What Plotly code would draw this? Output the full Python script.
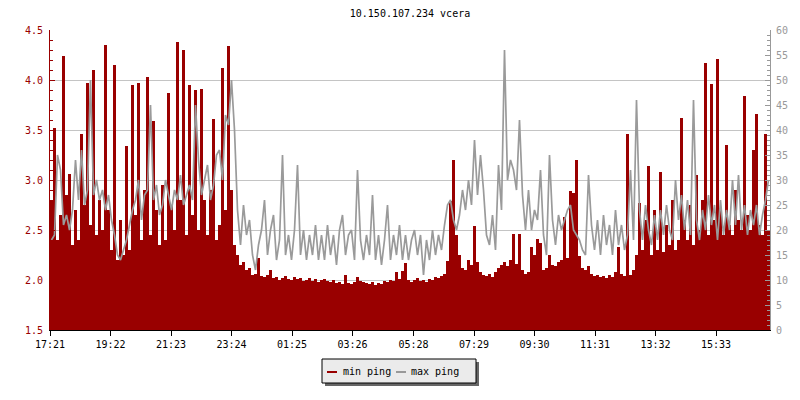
import pandas as pd
import plotly.graph_objects as go

# min ping (left axis) and max ping (right axis), one value per 6 minutes from 17:21
min_ping = [
    2.80, 3.52, 2.40, 2.65, 4.24, 2.85, 3.06, 2.35, 2.70, 2.40,
    3.46, 2.75, 3.97, 2.55, 4.10, 2.45, 2.80, 2.50, 4.35, 2.70,
    2.30, 4.15, 2.20, 2.60, 2.25, 3.34, 2.30, 3.95, 2.65, 3.97,
    2.40, 2.90, 4.03, 2.45, 3.59, 2.70, 2.35, 2.95, 2.40, 3.87,
    2.75, 2.50, 4.38, 2.80, 4.30, 2.45, 3.95, 2.65, 3.90, 2.50,
    3.91, 2.80, 2.45, 2.90, 3.61, 2.40, 2.55, 4.12, 2.70, 4.34,
    2.90, 2.35, 2.25, 2.15, 2.18, 2.10, 2.12, 2.05, 2.06, 2.22,
    2.04, 2.03, 2.05, 2.10, 2.02, 2.03, 2.00, 2.02, 2.04, 2.01,
    2.00, 2.03, 2.01, 2.02, 1.99, 2.00, 2.02, 1.99, 2.01, 1.98,
    2.00, 2.01, 1.99, 1.98, 2.00, 1.97, 1.98, 1.96, 2.05, 1.97,
    1.96, 1.98, 2.03, 1.99, 1.98, 1.97, 1.96, 1.98, 1.95, 1.97,
    1.96, 1.99, 1.98, 2.00, 1.99, 2.08, 2.01, 2.09, 2.17, 2.00,
    1.98, 2.00, 2.02, 1.99, 2.00, 1.98, 2.01, 2.00, 2.03, 2.02,
    2.04, 2.06, 2.19, 2.79, 3.20, 2.45, 2.25, 2.12, 2.10, 2.20,
    2.15, 2.54, 2.18, 2.08, 2.05, 2.04, 2.06, 2.03, 2.08, 2.12,
    2.15, 2.18, 2.14, 2.20, 2.46, 2.16, 2.46, 2.10, 2.06, 2.08,
    2.33, 2.25, 2.41, 2.37, 2.10, 2.12, 2.25, 2.15, 2.14, 2.18,
    2.20, 2.63, 2.22, 2.89, 2.87, 3.20, 2.24, 2.12, 2.10, 2.14,
    2.06, 2.04, 2.05, 2.03, 2.04, 2.02, 2.05, 2.03, 2.08, 2.33,
    2.06, 2.04, 3.46, 2.05, 2.10, 2.25, 2.77, 2.30, 2.60, 3.14,
    2.25, 2.70, 2.30, 3.08, 2.28, 2.55, 2.35, 2.80, 2.30, 2.40,
    3.62, 2.60, 2.40, 2.75, 2.35, 3.05, 2.50, 2.80, 4.17, 2.45,
    3.96, 2.60, 4.21, 2.70, 2.45, 3.35, 2.55, 2.45, 2.90, 2.60,
    2.50, 3.84, 2.65, 2.50, 3.30, 3.66, 2.55, 2.45, 3.46, 2.50,
]

max_ping = [
    18, 19, 35, 32, 21, 23, 20, 24, 34, 26,
    36, 25, 28, 50, 27, 30, 26, 28, 24, 27,
    22, 19, 15, 14, 16, 18, 21, 24, 26, 30,
    22, 27, 28, 45, 26, 29, 23, 25, 30, 27,
    24, 28, 26, 31, 25, 27, 29, 26, 45, 34,
    27, 30, 33, 26, 29, 35, 36, 30, 43, 41,
    50, 40, 24, 17, 25, 19, 22, 15, 12, 17,
    20, 26, 15, 20, 23, 14, 18, 35, 15, 19,
    14, 20, 33, 15, 20, 14, 19, 15, 21, 14,
    19, 14, 21, 15, 19, 13, 20, 23, 15, 19,
    20, 14, 32, 18, 14, 19, 15, 27, 14, 19,
    13, 18, 25, 14, 19, 15, 21, 14, 19, 14,
    18, 20, 15, 19, 11, 18, 14, 20, 15, 19,
    16, 21, 25, 26, 22, 20, 23, 28, 24, 30,
    25, 38, 27, 35, 28, 19, 17, 23, 16, 33,
    24, 56, 30, 34, 32, 28, 42, 27, 20, 28,
    20, 24, 22, 32, 19, 15, 35, 22, 17, 23,
    20, 22, 24, 25, 20, 19, 18, 16, 15, 31,
    21, 16, 22, 15, 23, 17, 21, 15, 24, 17,
    21, 16, 19, 32, 18, 46, 24, 18, 25, 20,
    17, 23, 18, 24, 19, 25, 20, 18, 30, 22,
    27, 20, 26, 19, 46, 22, 18, 24, 20, 27,
    21, 25, 18, 26, 19, 24, 20, 30, 21, 31,
    20, 25, 19, 24, 21, 25, 19, 23, 26, 30,
]

tick_labels = ["17:21", "19:22", "21:23", "23:24", "01:25", "03:26",
               "05:28", "07:29", "09:30", "11:31", "13:32", "15:33"]

START = pd.Timestamp("2024-05-13 17:21")
STEP_MIN = 6
SPAN_MIN = 1440

RED = "#990000"
GREY = "#999999"
GRID = "#c4c4c4"
FONT = "DejaVu Sans Mono"

# page offset of the figure (default body margin), and plot area in page pixels
PAGE = 8
L, R, T, B = 50, 770, 30, 330


def px_x(px):
    return (px - L) / (R - L)


def px_y(py):
    return (B - py) / (B - T)


def tick_time(label):
    t = pd.Timestamp(f"{START.date()} {label}")
    return t if t >= START else t + pd.Timedelta(days=1)


times = pd.date_range(START, periods=len(min_ping), freq=f"{STEP_MIN}min")
mid_times = times + pd.Timedelta(minutes=STEP_MIN / 2)
tick_vals = [tick_time(s) for s in tick_labels]

fig = go.Figure()

fig.add_trace(go.Bar(
    x=times,
    y=min_ping,
    width=STEP_MIN * 60 * 1000,
    offset=0,
    marker=dict(color=RED, line=dict(width=0)),
    name="min ping",
    showlegend=False,
))

fig.add_trace(go.Scatter(
    x=mid_times,
    y=max_ping,
    yaxis="y2",
    mode="lines",
    line=dict(color="#9a9a9a", width=1.7),
    name="max ping",
    showlegend=False,
))

# legend box drawn by hand (shadow + box + swatches)
fig.add_shape(type="rect", xref="paper", yref="paper",
              x0=px_x(325), x1=px_x(479), y0=px_y(386), y1=px_y(362),
              fillcolor="#666666", line_width=0)
fig.add_shape(type="rect", xref="paper", yref="paper",
              x0=px_x(322), x1=px_x(476), y0=px_y(383), y1=px_y(359),
              fillcolor="#ebebeb", line=dict(color="black", width=1))
for x0, color in [(327, RED), (396, GREY)]:
    fig.add_shape(type="line", xref="paper", yref="paper",
                  x0=px_x(x0), x1=px_x(x0 + 10), y0=px_y(372), y1=px_y(372),
                  line=dict(color=color, width=2))
for x0, text in [(341, "min ping"), (409, "max ping")]:
    fig.add_annotation(x=px_x(x0), y=px_y(371), xref="paper", yref="paper",
                       text=text, showarrow=False, xanchor="left",
                       yanchor="middle", font=dict(family=FONT, size=10, color="black"))

fig.update_layout(
    width=800 - PAGE,
    height=400 - PAGE,
    autosize=False,
    margin=dict(l=L - PAGE, r=800 - R, t=T - PAGE, b=400 - B),
    paper_bgcolor="white",
    plot_bgcolor="white",
    title=dict(text="10.150.107.234 vcera", x=0.5, xref="paper",
               y=1 - (13.5 - PAGE) / (400 - PAGE), yanchor="middle",
               font=dict(family=FONT, size=10, color="black")),
    bargap=0,
    showlegend=False,
    xaxis=dict(
        type="date",
        range=[START, START + pd.Timedelta(minutes=SPAN_MIN)],
        tickvals=tick_vals,
        ticktext=tick_labels,
        ticks="outside",
        ticklen=5,
        tickcolor="black",
        showline=True,
        linecolor="black",
        linewidth=1,
        showgrid=False,
        zeroline=False,
        automargin=False,
        tickfont=dict(family=FONT, size=10, color="black"),
    ),
    yaxis=dict(
        range=[1.5, 4.5],
        tick0=1.5,
        dtick=0.5,
        tickformat=".1f",
        ticks="inside",
        ticklen=5,
        tickcolor=RED,
        showline=True,
        linecolor=RED,
        gridcolor=GRID,
        zeroline=False,
        automargin=False,
        tickfont=dict(family=FONT, size=10, color=RED),
        ticklabelstandoff=4,
        minor=dict(dtick=0.1, ticks="inside", ticklen=3, tickcolor=RED, showgrid=False),
    ),
    yaxis2=dict(
        overlaying="y",
        side="right",
        range=[0, 60],
        tick0=0,
        dtick=5,
        ticks="inside",
        ticklen=5,
        tickcolor=GREY,
        showline=True,
        linecolor=GREY,
        showgrid=False,
        zeroline=False,
        automargin=False,
        tickfont=dict(family=FONT, size=10, color=GREY),
        ticklabelstandoff=3,
        minor=dict(dtick=1, ticks="inside", ticklen=3, tickcolor=GREY, showgrid=False),
    ),
)

fig.write_html("out.html")
